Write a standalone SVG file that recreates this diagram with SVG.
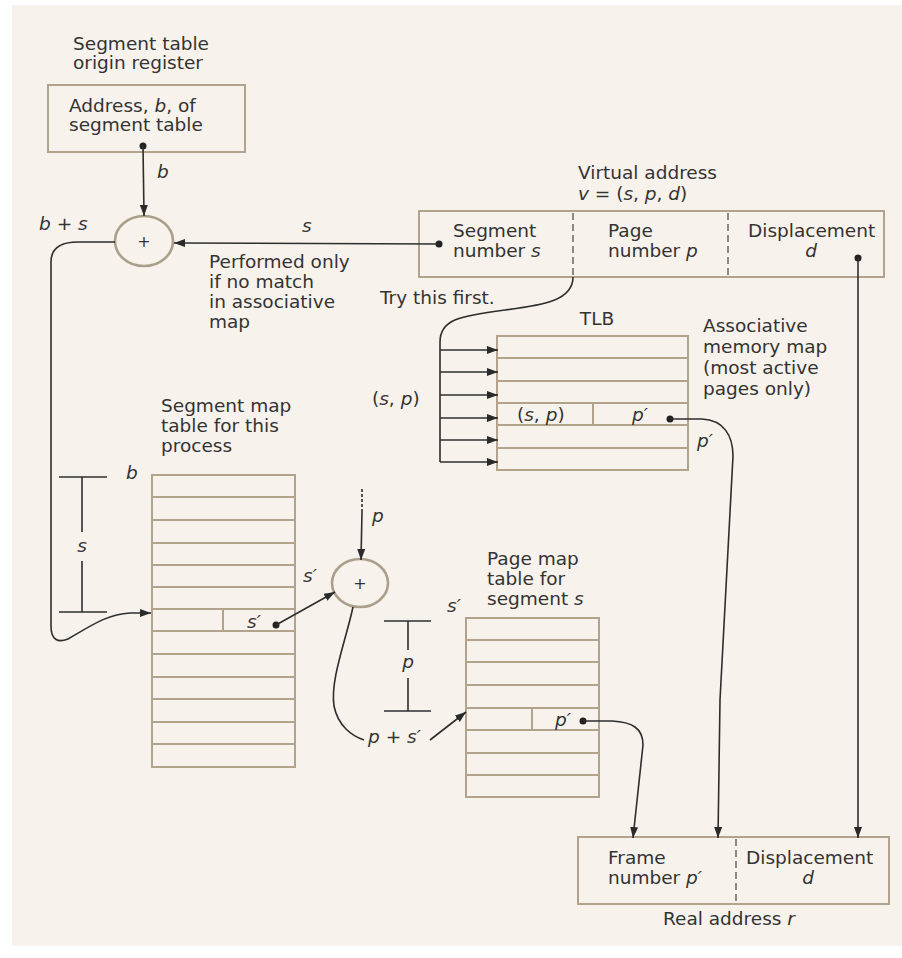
<svg xmlns="http://www.w3.org/2000/svg" width="902" height="958" viewBox="0 0 902 958">
  <style>
    text { font-family: "DejaVu Sans", "Liberation Sans", sans-serif; font-size: 18.5px; fill: #333; }
    .i { font-style: italic; }
    .mid { text-anchor: middle; }
    .box { fill: none; stroke: #b2a38c; stroke-width: 2; }
    .row { stroke: #b2a38c; stroke-width: 2; }
    .div { stroke: #444; stroke-width: 1.2; stroke-dasharray: 7 4; }
    .wire { fill: none; stroke: #2e2e2e; stroke-width: 1.6; }
    .arr { marker-end: url(#ah); }
    .dot { fill: #222; }
    .adder { fill: none; stroke: #ab9f8c; stroke-width: 2.6; }
    .plus { font-size: 16px; }
  </style>
  <defs>
    <marker id="ah" markerUnits="userSpaceOnUse" markerWidth="12" markerHeight="9" refX="11" refY="4" orient="auto">
      <path d="M0,0 L11,4 L0,8 Z" fill="#2a2a2a"/>
    </marker>
  </defs>

  <!-- paper -->
  <rect x="0" y="0" width="902" height="958" fill="#ffffff"/>
  <rect x="12" y="5" width="890" height="941" fill="#f7f2eb"/>

  <!-- segment table origin register -->
  <g id="origin-register">
    <text x="73" y="50">Segment table</text>
    <text x="73" y="69">origin register</text>
    <rect class="box" x="48" y="85" width="197" height="67"/>
    <text x="69" y="112">Address, <tspan class="i">b</tspan>, of</text>
    <text x="69" y="131">segment table</text>
  </g>

  <!-- first adder: b + s -->
  <g id="adder-bs">
    <ellipse class="adder" cx="144" cy="241" rx="29" ry="25"/>
    <text class="plus mid" x="144" y="247">+</text>
  </g>

  <!-- virtual address -->
  <g id="virtual-address">
    <text x="578" y="179">Virtual address</text>
    <text x="578" y="200" class="i">v<tspan font-style="normal"> = (</tspan>s<tspan font-style="normal">, </tspan>p<tspan font-style="normal">, </tspan>d<tspan font-style="normal">)</tspan></text>
    <rect class="box" x="419" y="211" width="465" height="66"/>
    <line class="div" x1="573" y1="213" x2="573" y2="277"/>
    <line class="div" x1="728" y1="213" x2="728" y2="277"/>
    <text x="453" y="237">Segment</text>
    <text x="453" y="257">number <tspan class="i">s</tspan></text>
    <text x="608" y="237">Page</text>
    <text x="608" y="257">number <tspan class="i">p</tspan></text>
    <text x="748" y="237">Displacement</text>
    <text x="811" y="257" class="i mid">d</text>
  </g>

  <!-- TLB -->
  <g id="tlb">
    <text x="597" y="325" class="mid">TLB</text>
    <rect class="box" x="497" y="336" width="191" height="134"/>
    <line class="row" x1="497" y1="358" x2="688" y2="358"/>
    <line class="row" x1="497" y1="381" x2="688" y2="381"/>
    <line class="row" x1="497" y1="403" x2="688" y2="403"/>
    <line class="row" x1="497" y1="425" x2="688" y2="425"/>
    <line class="row" x1="497" y1="448" x2="688" y2="448"/>
    <line class="row" x1="593" y1="403" x2="593" y2="425"/>
    <text x="517" y="421">(<tspan class="i">s</tspan>, <tspan class="i">p</tspan>)</text>
    <text x="632" y="421" class="i">p′</text>
    <text x="703" y="332">Associative</text>
    <text x="703" y="353">memory map</text>
    <text x="703" y="374">(most active</text>
    <text x="703" y="395">pages only)</text>
  </g>

  <!-- segment map table -->
  <g id="segment-map-table">
    <text x="161" y="412">Segment map</text>
    <text x="161" y="432">table for this</text>
    <text x="161" y="452">process</text>
    <rect class="box" x="152" y="475" width="143" height="292"/>
    <line class="row" x1="152" y1="497" x2="295" y2="497"/>
    <line class="row" x1="152" y1="520" x2="295" y2="520"/>
    <line class="row" x1="152" y1="543" x2="295" y2="543"/>
    <line class="row" x1="152" y1="565" x2="295" y2="565"/>
    <line class="row" x1="152" y1="587" x2="295" y2="587"/>
    <line class="row" x1="152" y1="609" x2="295" y2="609"/>
    <line class="row" x1="152" y1="631" x2="295" y2="631"/>
    <line class="row" x1="152" y1="654" x2="295" y2="654"/>
    <line class="row" x1="152" y1="677" x2="295" y2="677"/>
    <line class="row" x1="152" y1="699" x2="295" y2="699"/>
    <line class="row" x1="152" y1="722" x2="295" y2="722"/>
    <line class="row" x1="152" y1="744" x2="295" y2="744"/>
    <line class="row" x1="223" y1="609" x2="223" y2="631"/>
    <text x="126" y="479" class="i">b</text>
    <text x="247" y="628" class="i">s′</text>
  </g>

  <!-- second adder: p + s' -->
  <g id="adder-ps">
    <ellipse class="adder" cx="360" cy="583" rx="28" ry="24"/>
    <text class="plus mid" x="360" y="589">+</text>
  </g>

  <!-- page map table -->
  <g id="page-map-table">
    <text x="487" y="565">Page map</text>
    <text x="487" y="585">table for</text>
    <text x="487" y="605">segment <tspan class="i">s</tspan></text>
    <rect class="box" x="466" y="618" width="133" height="179"/>
    <line class="row" x1="466" y1="640" x2="599" y2="640"/>
    <line class="row" x1="466" y1="662" x2="599" y2="662"/>
    <line class="row" x1="466" y1="685" x2="599" y2="685"/>
    <line class="row" x1="466" y1="708" x2="599" y2="708"/>
    <line class="row" x1="466" y1="730" x2="599" y2="730"/>
    <line class="row" x1="466" y1="753" x2="599" y2="753"/>
    <line class="row" x1="466" y1="775" x2="599" y2="775"/>
    <line class="row" x1="532" y1="708" x2="532" y2="730"/>
    <text x="555" y="726" class="i">p′</text>
    <text x="447" y="612" class="i">s′</text>
  </g>

  <!-- real address -->
  <g id="real-address">
    <rect class="box" x="578" y="837" width="311" height="67"/>
    <line class="div" x1="736" y1="839" x2="736" y2="904"/>
    <text x="608" y="864">Frame</text>
    <text x="608" y="884">number <tspan class="i">p′</tspan></text>
    <text x="746" y="864">Displacement</text>
    <text x="808" y="884" class="i mid">d</text>
    <text x="663" y="925">Real address <tspan class="i">r</tspan></text>
  </g>

  <!-- connectors -->
  <g id="connectors">
    <!-- b into first adder -->
    <circle class="dot" cx="143" cy="146" r="3.5"/>
    <line class="wire arr" x1="143" y1="146" x2="144" y2="216"/>
    <text x="157" y="178" class="i">b</text>

    <!-- s from virtual address into first adder -->
    <circle class="dot" cx="439" cy="244" r="3.5"/>
    <line class="wire arr" x1="439" y1="244" x2="174" y2="243"/>
    <text x="302" y="232" class="i">s</text>
    <text x="209" y="268">Performed only</text>
    <text x="209" y="288">if no match</text>
    <text x="209" y="308">in associative</text>
    <text x="209" y="328">map</text>

    <!-- b + s down to segment map table -->
    <text x="39" y="230"><tspan class="i">b</tspan> + <tspan class="i">s</tspan></text>
    <path class="wire arr" d="M115,242 H78 C60,242 51,248 51,262 V626 C51,640 58,643 68,639 C92,625 108,614 130,613 H151"/>

    <!-- offset s bracket -->
    <line class="wire" x1="59" y1="477" x2="107" y2="477"/>
    <line class="wire" x1="59" y1="612" x2="107" y2="612"/>
    <line class="wire" x1="82" y1="477" x2="82" y2="532"/>
    <line class="wire" x1="82" y1="561" x2="82" y2="612"/>
    <text x="82" y="552" class="i mid">s</text>

    <!-- try TLB first -->
    <text x="380" y="304">Try this first.</text>
    <text x="372" y="405">(<tspan class="i">s</tspan>, <tspan class="i">p</tspan>)</text>
    <path class="wire" d="M573,277 C573,300 545,305 505,310 C458,316 440,320 440,342 V462"/>
    <line class="wire arr" x1="440" y1="350" x2="498" y2="350"/>
    <line class="wire arr" x1="440" y1="372" x2="498" y2="372"/>
    <line class="wire arr" x1="440" y1="395" x2="498" y2="395"/>
    <line class="wire arr" x1="440" y1="418" x2="498" y2="418"/>
    <line class="wire arr" x1="440" y1="440" x2="498" y2="440"/>
    <line class="wire arr" x1="440" y1="462" x2="498" y2="462"/>

    <!-- TLB hit: p' to real address -->
    <circle class="dot" cx="670" cy="419" r="3.5"/>
    <path class="wire arr" d="M670,419 H702 C724,420 733,436 733,456 L720,700 L718,838"/>
    <text x="697" y="447" class="i">p′</text>

    <!-- displacement d straight down -->
    <circle class="dot" cx="858" cy="258" r="3.5"/>
    <line class="wire arr" x1="858" y1="258" x2="858" y2="838"/>

    <!-- s' from segment table into second adder -->
    <circle class="dot" cx="276" cy="625" r="3.5"/>
    <line class="wire arr" x1="276" y1="625" x2="335" y2="592"/>
    <text x="303" y="582" class="i">s′</text>

    <!-- p into second adder -->
    <line class="wire" x1="362" y1="489" x2="362" y2="511" stroke-dasharray="3 2" stroke-width="3"/>
    <line class="wire arr" x1="362" y1="511" x2="361" y2="560"/>
    <text x="372" y="522" class="i">p</text>

    <!-- p + s' into page map table -->
    <path class="wire" d="M353,607 C346,640 330,680 334,706 C338,726 352,736 364,740"/>
    <text x="368" y="743" class="i">p<tspan font-style="normal"> + </tspan>s′</text>
    <line class="wire arr" x1="430" y1="740" x2="466" y2="712"/>

    <!-- offset p bracket -->
    <line class="wire" x1="384" y1="621" x2="431" y2="621"/>
    <line class="wire" x1="384" y1="711" x2="431" y2="711"/>
    <line class="wire" x1="408" y1="621" x2="408" y2="650"/>
    <line class="wire" x1="408" y1="678" x2="408" y2="711"/>
    <text x="408" y="668" class="i mid">p</text>

    <!-- page table p' to frame number -->
    <circle class="dot" cx="583" cy="721" r="3.5"/>
    <path class="wire arr" d="M583,721 H612 C632,722 643,728 643,745 L633,838"/>
  </g>
</svg>
